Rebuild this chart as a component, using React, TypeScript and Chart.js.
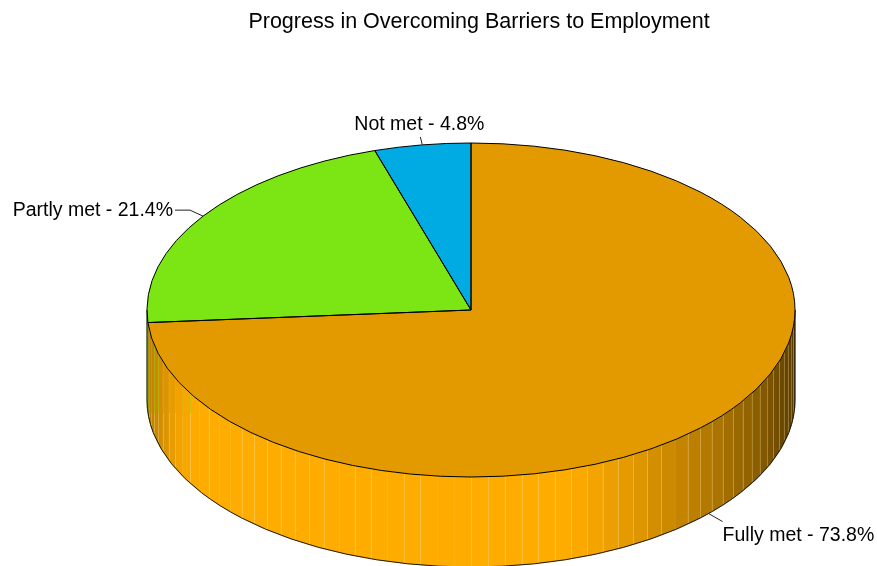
import React, { useEffect, useRef } from "react";
import { Chart, registerables } from "chart.js";

Chart.register(...registerables);

const titleText = "Progress in Overcoming Barriers to Employment";
const categories = ["Fully met", "Partly met", "Not met"];
const shares = [73.8, 21.4, 4.8];
const topColors = ["#E39A00", "#7BE614", "#00ABE3"];
const wallColors = [[255, 172, 0], [138, 255, 22], [0, 192, 255]];

const FONT = '"Liberation Sans", Arial, sans-serif';
const SQUASH = 167 / 324;
const DEPTH = 90;
const STEP = 3;

// Brightness of the side wall by clockwise angle from twelve o'clock.
const shadeStops: [number, number][] = [
  [90, 0.33], [104, 0.4], [124, 0.6], [135, 0.72], [148, 0.86],
  [162, 1], [238, 1], [245, 0.94], [252, 0.84], [262, 0.74], [270, 0.68],
];
// Facet seams that hardly show on the wall.
const faintSeams = [141, 183, 186, 195, 204, 228, 231, 237, 243];

const labelOffsets = [
  { via: [14, 8], end: [14, 8], text: [14, 27], align: "left" },
  { via: [-13, -6], end: [-28, -6], text: [-30, 0], align: "right" },
  { via: [-2, -8], end: [-2, -8], text: [-3, -15], align: "center" },
];

function shadeAt(theta: number): number {
  for (let i = 1; i < shadeStops.length; i++) {
    const [t0, s0] = shadeStops[i - 1];
    const [t1, s1] = shadeStops[i];
    if (theta <= t1) return s0 + ((s1 - s0) * (theta - t0)) / (t1 - t0);
  }
  return shadeStops[shadeStops.length - 1][1];
}

const toAngle = (theta: number) => ((theta - 90) * Math.PI) / 180;
const toTheta = (angle: number) => (angle * 180) / Math.PI + 90;

const pie3d = {
  id: "pie3d",
  afterLayout(chart: any) {
    // The heading sits slightly right of the pie's centre.
    chart.titleBlock.left += 8;
    chart.titleBlock.right += 8;
  },
  beforeDatasetsDraw(chart: any) {
    const { ctx } = chart;
    const arcs = chart.getDatasetMeta(0).data;
    const { x, y, outerRadius: r } = arcs[0];
    const rimX = (t: number) => x + r * Math.cos(toAngle(t));
    const rimY = (t: number) => y + r * SQUASH * Math.sin(toAngle(t));

    ctx.save();
    arcs.forEach((arc: any, i: number) => {
      const from = Math.max(toTheta(arc.startAngle), 90);
      const to = Math.min(toTheta(arc.endAngle), 270);
      if (to <= from) return;
      const [cr, cg, cb] = wallColors[i];
      const first = Math.floor(from / STEP) * STEP;
      for (let t = first; t < to; t += STEP) {
        const a = Math.max(t, from);
        const b = Math.min(t + STEP, to);
        const s = shadeAt((a + b) / 2);
        ctx.beginPath();
        ctx.moveTo(rimX(a), rimY(a));
        for (let p = a; p < b; p += 0.5) ctx.lineTo(rimX(p), rimY(p));
        ctx.lineTo(rimX(b), rimY(b));
        ctx.lineTo(rimX(b), rimY(b) + DEPTH);
        for (let p = b; p > a; p -= 0.5) ctx.lineTo(rimX(p), rimY(p) + DEPTH);
        ctx.lineTo(rimX(a), rimY(a) + DEPTH);
        ctx.closePath();
        const fill = `rgb(${cr * s},${cg * s},${cb * s})`;
        ctx.fillStyle = fill;
        ctx.strokeStyle = fill;
        ctx.lineWidth = 0.6;
        ctx.fill();
        ctx.stroke();
      }
      // Pale seams between facets; seams on the far left pick up green near the top.
      for (let t = first + STEP; t < to; t += STEP) {
        const alpha = faintSeams.includes(t) ? 0.05 : 0.3;
        const sx = Math.round(rimX(t)) + 0.5;
        const top = rimY(t);
        const bottom = top + DEPTH;
        ctx.lineWidth = 1;
        const tintEnd = y + 103;
        if (t >= 240 && top < tintEnd) {
          ctx.strokeStyle = `rgba(150,220,20,${alpha + 0.1})`;
          ctx.beginPath();
          ctx.moveTo(sx, top);
          ctx.lineTo(sx, tintEnd);
          ctx.stroke();
        }
        ctx.strokeStyle = `rgba(255,235,170,${alpha})`;
        ctx.beginPath();
        ctx.moveTo(sx, t >= 240 ? Math.max(top, tintEnd) : top);
        ctx.lineTo(sx, bottom);
        ctx.stroke();
      }
    });

    // Wall outline: both upright edges and the lower rim.
    ctx.strokeStyle = "#1a1a1a";
    ctx.lineWidth = 1;
    ctx.beginPath();
    ctx.moveTo(x + r, y);
    ctx.lineTo(x + r, y + DEPTH);
    ctx.ellipse(x, y + DEPTH, r, r * SQUASH, 0, 0, Math.PI);
    ctx.lineTo(x - r, y);
    ctx.stroke();
    ctx.restore();

    // Flatten the circular slices into the pie's top face.
    ctx.save();
    ctx.translate(x, y);
    ctx.scale(1, SQUASH);
    ctx.translate(-x, -y);
  },
  afterDatasetsDraw(chart: any) {
    const { ctx } = chart;
    ctx.restore();
    const arcs = chart.getDatasetMeta(0).data;
    ctx.save();
    ctx.strokeStyle = "#000";
    ctx.lineWidth = 1;
    arcs.forEach((arc: any) => {
      ctx.beginPath();
      ctx.moveTo(arc.x, arc.y);
      ctx.ellipse(arc.x, arc.y, arc.outerRadius, arc.outerRadius * SQUASH, 0, arc.startAngle, arc.endAngle);
      ctx.closePath();
      ctx.stroke();
    });

    // Slice captions with short leader lines from the rim.
    ctx.font = `19.5px ${FONT}`;
    ctx.textBaseline = "alphabetic";
    arcs.forEach((arc: any, i: number) => {
      const mid = (arc.startAngle + arc.endAngle) / 2;
      const ax = arc.x + arc.outerRadius * Math.cos(mid);
      let ay = arc.y + arc.outerRadius * SQUASH * Math.sin(mid);
      const theta = toTheta(mid);
      if (theta > 90 && theta < 270) ay += DEPTH;
      const { via, end, text, align } = labelOffsets[i];
      ctx.strokeStyle = "#222";
      ctx.beginPath();
      ctx.moveTo(ax, ay);
      ctx.lineTo(ax + via[0], ay + via[1]);
      ctx.lineTo(ax + end[0], ay + end[1]);
      ctx.stroke();
      ctx.fillStyle = "#000";
      ctx.textAlign = align as CanvasTextAlign;
      ctx.fillText(`${categories[i]} - ${shares[i].toFixed(1)}%`, ax + text[0], ay + text[1]);
    });
    ctx.restore();
  },
};

export default function App() {
  const ref = useRef<HTMLCanvasElement>(null);
  useEffect(() => {
    document.body.style.margin = "0";
    const chart = new Chart(ref.current!, {
      type: "pie",
      data: {
        labels: categories,
        datasets: [
          {
            data: shares,
            backgroundColor: topColors,
            borderWidth: 0,
            radius: 324,
            clip: false,
          } as any,
        ],
      },
      options: {
        responsive: false,
        animation: false,
        events: [],
        layout: { padding: { left: 65 } },
        plugins: {
          legend: { display: false },
          tooltip: { enabled: false },
          title: {
            display: true,
            text: titleText,
            color: "#000",
            font: { family: FONT, size: 21.5, weight: "normal", lineHeight: 1.2 },
            padding: { top: 9, bottom: 19.2 },
          },
        },
      },
      plugins: [pie3d],
    } as any);
    return () => chart.destroy();
  }, []);
  return <canvas ref={ref} width={877} height={566} style={{ display: "block" }} />;
}
